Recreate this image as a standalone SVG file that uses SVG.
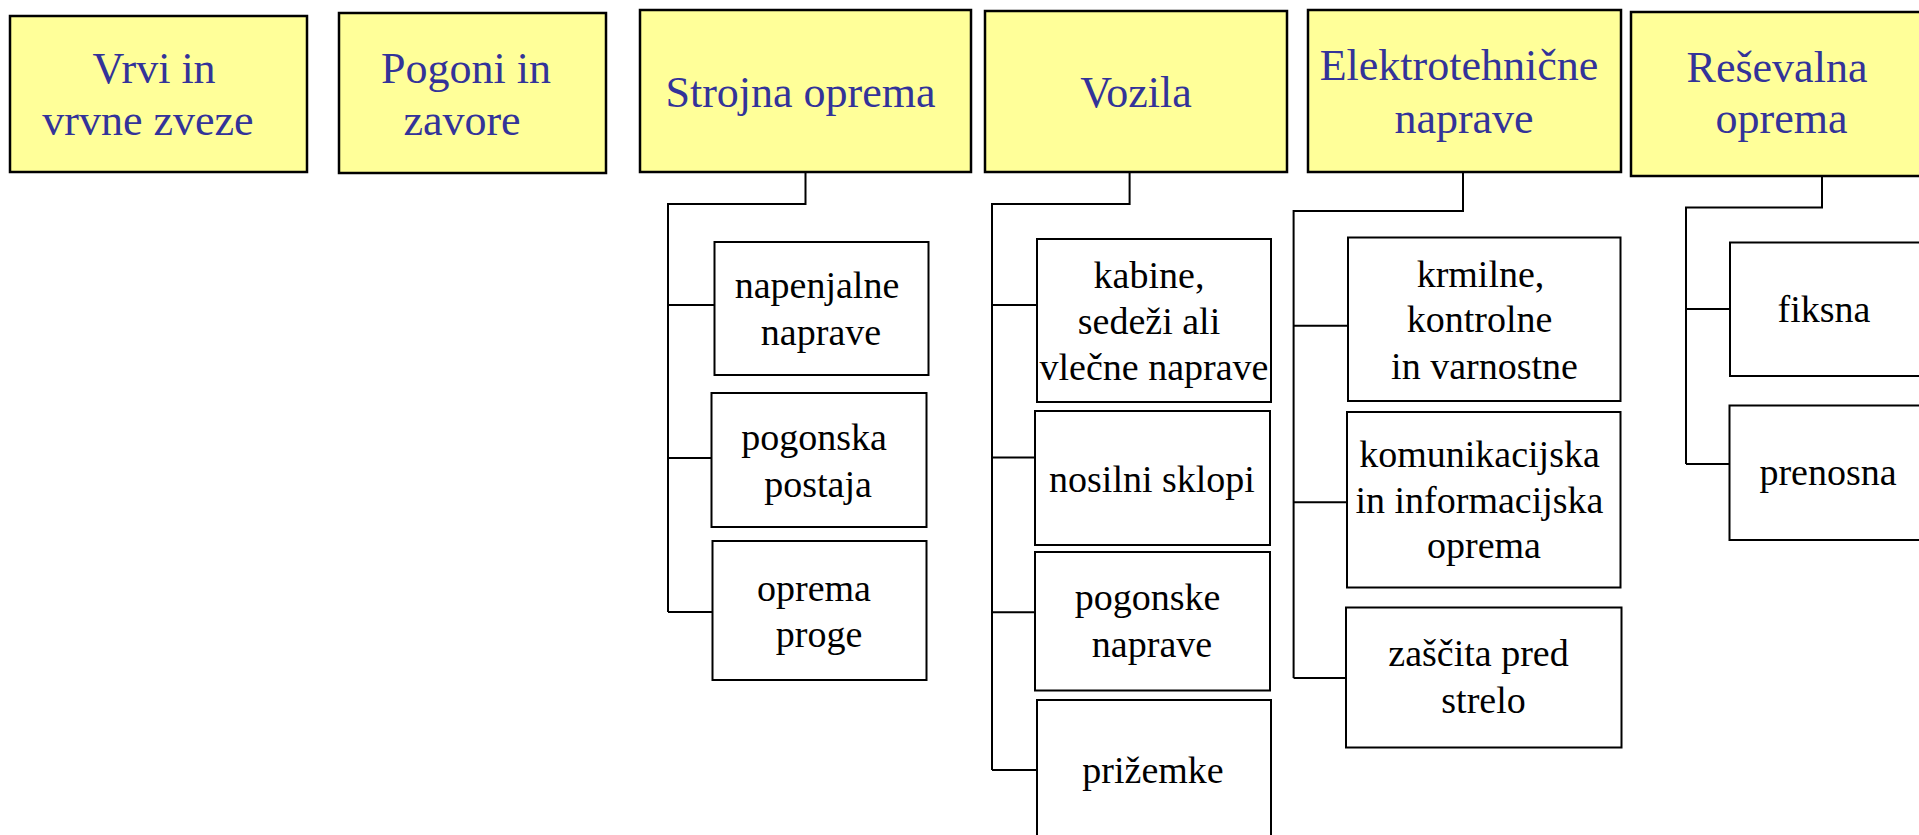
<svg xmlns="http://www.w3.org/2000/svg" width="1919" height="835" viewBox="0 0 1919 835">
<style>
.hb{fill:#FFFF99;stroke:#000;stroke-width:2.5}
.cb{fill:#fff;stroke:#000;stroke-width:2}
.ht{font-family:"Liberation Serif","Times New Roman",serif;font-size:44px;fill:#333399;text-anchor:middle}
.ct{font-family:"Liberation Serif","Times New Roman",serif;font-size:38px;fill:#000;text-anchor:middle}
.cn{fill:none;stroke:#000;stroke-width:2}
</style>
<rect width="1919" height="835" fill="#fff"/>
<g id="connectors">
<path class="cn" d="M805.5 172 V204 H668 V612 M668 305 H714.5 M668 458 H711.5 M668 612 H712.5"/>
<path class="cn" d="M1129.6 172 V204 H992 V770 M992 305 H1037 M992 457.5 H1035 M992 612.3 H1035 M992 770 H1037"/>
<path class="cn" d="M1463 172 V211 H1293.6 V678 M1293.6 325.8 H1348 M1293.6 502.3 H1347 M1293.6 678 H1346"/>
<path class="cn" d="M1822 176 V207.6 H1686 V464 M1686 309 H1730 M1686 464 H1729.5"/>
</g>
<g id="vrvi">
<rect class="hb" x="10" y="16" width="297" height="156"/>
<text class="ht" x="154" y="83">Vrvi in</text>
<text class="ht" x="148" y="135">vrvne zveze</text>
</g>
<g id="pogoni">
<rect class="hb" x="339" y="13" width="267" height="160"/>
<text class="ht" x="466" y="83">Pogoni in</text>
<text class="ht" x="462" y="135">zavore</text>
</g>
<g id="strojna">
<rect class="hb" x="640" y="10" width="331" height="162"/>
<text class="ht" x="800.5" y="107">Strojna oprema</text>
</g>
<g id="vozila">
<rect class="hb" x="985" y="11" width="302" height="161"/>
<text class="ht" x="1136" y="107">Vozila</text>
</g>
<g id="elektro">
<rect class="hb" x="1308" y="10" width="313" height="162"/>
<text class="ht" x="1459" y="80">Elektrotehnične</text>
<text class="ht" x="1464" y="133">naprave</text>
</g>
<g id="resevalna">
<rect class="hb" x="1631" y="12" width="300" height="164"/>
<text class="ht" x="1777" y="82">Reševalna</text>
<text class="ht" x="1781.5" y="133">oprema</text>
</g>
<g id="napenjalne">
<rect class="cb" x="714.5" y="242" width="214" height="133"/>
<text class="ct" x="817" y="298">napenjalne</text>
<text class="ct" x="821" y="345">naprave</text>
</g>
<g id="pogonska">
<rect class="cb" x="711.5" y="393" width="215" height="134"/>
<text class="ct" x="814" y="450">pogonska</text>
<text class="ct" x="818" y="496.5">postaja</text>
</g>
<g id="oprema-proge">
<rect class="cb" x="712.5" y="541" width="214" height="139"/>
<text class="ct" x="814" y="600.5">oprema</text>
<text class="ct" x="819" y="646.5">proge</text>
</g>
<g id="kabine">
<rect class="cb" x="1037" y="239" width="234" height="163"/>
<text class="ct" x="1149" y="288">kabine,</text>
<text class="ct" x="1149" y="334">sedeži ali</text>
<text class="ct" x="1154" y="380">vlečne naprave</text>
</g>
<g id="nosilni">
<rect class="cb" x="1035" y="411" width="235" height="134"/>
<text class="ct" x="1152" y="491.5">nosilni sklopi</text>
</g>
<g id="pogonske">
<rect class="cb" x="1035" y="552" width="235" height="138.5"/>
<text class="ct" x="1147.5" y="610">pogonske</text>
<text class="ct" x="1152" y="656.5">naprave</text>
</g>
<g id="prizemke">
<rect class="cb" x="1037" y="700" width="234" height="150"/>
<text class="ct" x="1153" y="783">prižemke</text>
</g>
<g id="krmilne">
<rect class="cb" x="1348" y="237.5" width="272.5" height="163.5"/>
<text class="ct" x="1480.5" y="287">krmilne,</text>
<text class="ct" x="1479.5" y="332">kontrolne</text>
<text class="ct" x="1484.5" y="379">in varnostne</text>
</g>
<g id="komunikacijska">
<rect class="cb" x="1347" y="412" width="273.5" height="175.5"/>
<text class="ct" x="1479.5" y="467">komunikacijska</text>
<text class="ct" x="1479.5" y="513">in informacijska</text>
<text class="ct" x="1484" y="558">oprema</text>
</g>
<g id="zascita">
<rect class="cb" x="1346" y="607.5" width="275.5" height="140"/>
<text class="ct" x="1478.5" y="666">zaščita pred</text>
<text class="ct" x="1483.5" y="713">strelo</text>
</g>
<g id="fiksna">
<rect class="cb" x="1730" y="242.5" width="200" height="133.5"/>
<text class="ct" x="1824" y="321.5">fiksna</text>
</g>
<g id="prenosna">
<rect class="cb" x="1729.5" y="405.5" width="200" height="134.5"/>
<text class="ct" x="1828" y="485">prenosna</text>
</g>
</svg>
